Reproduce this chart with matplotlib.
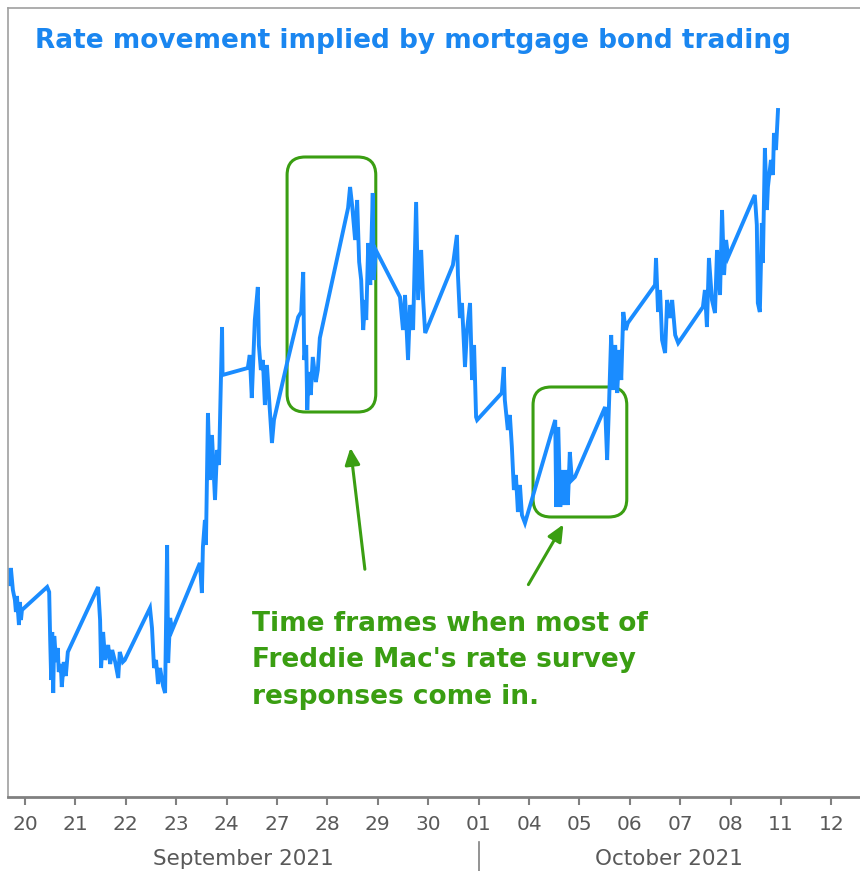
import matplotlib.pyplot as plt
from matplotlib.patches import FancyBboxPatch

# trading days shown on the axis (Sep 20 .. Oct 12, 2021)
day_labels = ['20', '21', '22', '23', '24', '27', '28', '29', '30',
              '01', '04', '05', '06', '07', '08', '11', '12']
month_labels = ['September 2021', 'October 2021']
month_split = 9  # index of Oct 01

# intraday path: position in trading days, implied-rate level (arbitrary units)
t = [-0.32, -0.30, -0.28, -0.24, -0.20, -0.18, -0.16, -0.12, -0.10, -0.08, -0.06,
     0.44, 0.48, 0.50, 0.52, 0.54, 0.56, 0.58, 0.62, 0.65, 0.67, 0.71, 0.73, 0.77,
     0.81, 0.85, 1.45, 1.49, 1.51, 1.55, 1.59, 1.65, 1.69, 1.73, 1.79, 1.85, 1.88,
     1.94, 1.98, 2.48, 2.52, 2.56, 2.60, 2.64, 2.68, 2.74, 2.78, 2.82, 2.84, 2.88,
     2.92, 3.47, 3.51, 3.53, 3.57, 3.59, 3.63, 3.67, 3.71, 3.77, 3.81, 3.85, 3.91,
     3.92, 4.42, 4.46, 4.50, 4.56, 4.62, 4.64, 4.68, 4.72, 4.76, 4.80, 4.86, 4.90,
     4.94, 5.20, 5.42, 5.48, 5.52, 5.54, 5.58, 5.60, 5.63, 5.67, 5.71, 5.77, 5.81,
     5.85, 6.41, 6.45, 6.49, 6.55, 6.59, 6.63, 6.67, 6.71, 6.75, 6.77, 6.81, 6.85,
     6.90, 6.92, 6.96, 7.44, 7.50, 7.54, 7.60, 7.64, 7.70, 7.76, 7.80, 7.86, 7.90,
     7.94, 8.49, 8.57, 8.59, 8.63, 8.67, 8.73, 8.77, 8.83, 8.87, 8.91, 8.95, 8.97,
     9.46, 9.50, 9.52, 9.58, 9.62, 9.66, 9.70, 9.74, 9.78, 9.82, 9.86, 9.92,
     10.52, 10.54, 10.58, 10.62, 10.65, 10.69, 10.73, 10.77, 10.81, 10.85, 10.91,
     11.51, 11.55, 11.59, 11.63, 11.67, 11.71, 11.75, 11.79, 11.83, 11.87, 11.92,
     11.96, 12.50, 12.52, 12.56, 12.60, 12.64, 12.70, 12.74, 12.80, 12.84, 12.90,
     12.96, 13.45, 13.49, 13.53, 13.57, 13.63, 13.69, 13.73, 13.79, 13.83, 13.87,
     13.91, 13.95, 14.48, 14.52, 14.54, 14.58, 14.62, 14.64, 14.68, 14.72, 14.74,
     14.80, 14.84, 14.86, 14.90, 14.94]
level = [227, 211, 229, 207, 197, 185, 201, 172, 195, 177, 187,
         210, 205, 157, 117, 165, 104, 161, 135, 149, 125, 133, 110, 135,
         121, 145, 210, 177, 129, 165, 137, 152, 133, 147, 135, 119, 145,
         135, 137, 189, 169, 129, 137, 113, 129, 111, 104, 252, 134, 179,
         167, 234, 204, 250, 277, 252, 384, 317, 362, 297, 347, 332, 470,
         422, 429, 442, 399, 477, 510, 452, 427, 437, 392, 432, 385, 354,
         377, 434, 480, 485, 525, 437, 452, 387, 425, 402, 440, 415, 427,
         459, 589, 610, 592, 557, 597, 535, 517, 467, 497, 477, 554, 512,
         604, 517, 547, 500, 467, 502, 437, 492, 467, 595, 497, 547, 497,
         464, 532, 562, 522, 479, 494, 430, 467, 494, 417, 452, 380, 377,
         404, 430, 397, 367, 382, 350, 307, 322, 285, 312, 282, 274,
         377, 290, 370, 290, 327, 292, 327, 292, 345, 317, 320,
         390, 337, 397, 462, 407, 452, 404, 447, 417, 485, 467,
         474, 512, 539, 485, 507, 457, 444, 497, 479, 497, 462,
         454, 490, 507, 470, 539, 497, 484, 547, 502, 587, 522,
         557, 540, 602, 572, 494, 485, 574, 534, 649, 587, 610,
         637, 622, 664, 647, 687]

# survey windows: (start, end, low, high)
windows = [(5.20, 6.96, 385, 640), (10.08, 11.94, 280, 410)]

blue = '#1a8cff'
green = '#3a9e12'
gray = '#595959'

fig = plt.figure(figsize=(8.6, 8.71), dpi=100)
ax = fig.add_axes([8 / 860, 74 / 871, 852 / 860, 789 / 871])

ax.plot(t, level, color=blue, lw=2.8, solid_joinstyle='miter')

ax.set_xlim(-0.337, 16.567)
ax.set_ylim(0, 789)
ax.set_yticks([])
ax.set_xticks(range(len(day_labels)))
ax.set_xticklabels(day_labels, fontsize=14.5, color=gray)
ax.tick_params(axis='x', length=6, width=1.5, color='#808080', pad=7)

for side in ['left', 'top']:
    ax.spines[side].set_color('#a0a0a0')
    ax.spines[side].set_linewidth(1.2)
ax.spines['right'].set_visible(False)
ax.spines['bottom'].set_color('#808080')
ax.spines['bottom'].set_linewidth(2)

# month labels under the day ticks
x0, x1 = ax.get_xlim()
trans = ax.get_xaxis_transform()
ax.text((x0 + month_split) / 2, -0.086, month_labels[0], transform=trans,
        ha='center', va='baseline', fontsize=15.5, color=gray)
ax.text((month_split + x1) / 2, -0.086, month_labels[1], transform=trans,
        ha='center', va='baseline', fontsize=15.5, color=gray)
ax.plot([month_split, month_split], [-0.057, -0.095], transform=trans,
        color='#808080', lw=1.2, clip_on=False)

# survey windows
for a, b, lo, hi in windows:
    box = FancyBboxPatch((a, lo), b - a, hi - lo,
                         boxstyle='round,pad=0,rounding_size=0.36',
                         mutation_aspect=50.4, fill=False,
                         edgecolor=green, lw=2.2)
    ax.add_patch(box)

ax.annotate('', xy=(6.45, 352), xytext=(6.75, 225),
            arrowprops=dict(arrowstyle='-|>,head_length=1.0,head_width=0.45',
                            color=green, lw=2.2))
ax.annotate('', xy=(10.71, 275), xytext=(9.96, 210),
            arrowprops=dict(arrowstyle='-|>,head_length=1.0,head_width=0.45',
                            color=green, lw=2.2))

ax.text(4.50, 186, "Time frames when most of\nFreddie Mac's rate survey\nresponses come in.",
        ha='left', va='top', fontsize=19, fontweight='bold', color=green,
        linespacing=1.52)

fig.text(35 / 860, 1 - 48 / 871, 'Rate movement implied by mortgage bond trading',
         ha='left', va='baseline', fontsize=19, fontweight='bold', color='#1a86f0')

plt.savefig('out.png', dpi=100)
